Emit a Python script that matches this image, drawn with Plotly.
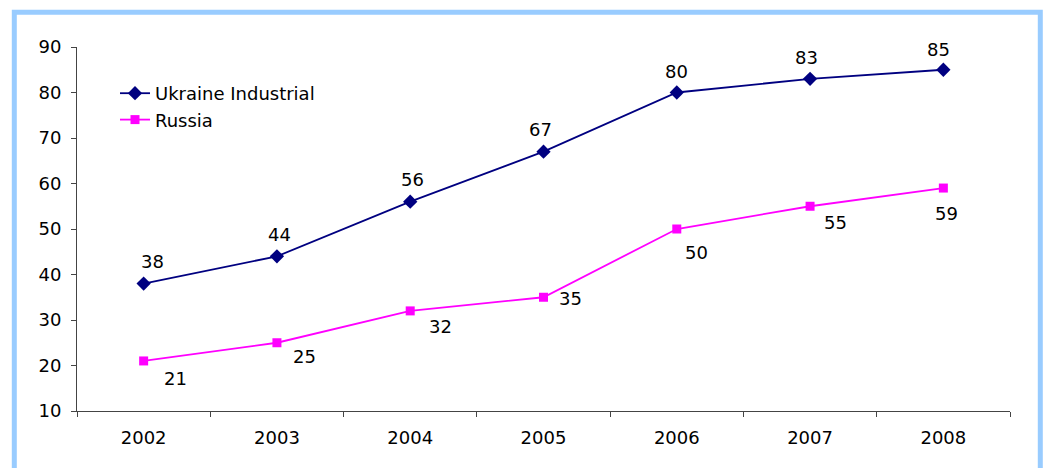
import plotly.graph_objects as go

# Chart data
years = ["2002", "2003", "2004", "2005", "2006", "2007", "2008"]
ukraine_industrial = [38, 44, 56, 67, 80, 83, 85]
russia = [21, 25, 32, 35, 50, 55, 59]

# Label placement (pixel shifts from each point)
ukraine_label_shift = [(9, 22), (3, 22), (2, 22), (-3, 22), (0, 21), (-4, 21), (-5, 20)]
russia_label_shift = [(32, -18), (28, -14), (30, -16), (27, -1), (20, -23), (25, -16), (3, -25)]

W, H = 1046, 468
ML, MR, MT, MB = 77, 36, 47, 57
FONT = "DejaVu Sans"
NAVY = "#000080"
MAGENTA = "#FF00FF"
FRAME = "#99CCFF"

fig = go.Figure()
fig.add_trace(go.Scatter(
    x=years, y=ukraine_industrial, name="Ukraine Industrial", mode="lines+markers",
    line=dict(color=NAVY, width=1.8),
    marker=dict(symbol="diamond", size=11, color=NAVY),
))
fig.add_trace(go.Scatter(
    x=years, y=russia, name="Russia", mode="lines+markers",
    line=dict(color=MAGENTA, width=1.8),
    marker=dict(symbol="square", size=9, color=MAGENTA),
))

# Value labels (category axis: position by category index)
for i, (v, (dx, dy)) in enumerate(zip(ukraine_industrial, ukraine_label_shift)):
    fig.add_annotation(x=i, y=v, xref="x", yref="y", text=str(v), showarrow=False,
                       xshift=dx, yshift=dy, font=dict(family=FONT, size=18, color="#000"))
for i, (v, (dx, dy)) in enumerate(zip(russia, russia_label_shift)):
    fig.add_annotation(x=i, y=v, xref="x", yref="y", text=str(v), showarrow=False,
                       xshift=dx, yshift=dy, font=dict(family=FONT, size=18, color="#000"))

# Light blue frame around the chart, given in pixels and mapped to paper units
pw, ph = W - ML - MR, H - MT - MB
def px_x(p):
    return (p - ML) / pw
def px_y(p):
    return (H - MB - p) / ph

fig.add_shape(type="rect", xref="paper", yref="paper",
              x0=px_x(14.3), x1=px_x(1040.3), y0=px_y(490), y1=px_y(12.3),
              line=dict(color=FRAME, width=5), fillcolor="rgba(0,0,0,0)", layer="below")

fig.update_layout(
    width=W, height=H,
    margin=dict(l=ML, r=MR, t=MT, b=MB),
    paper_bgcolor="white", plot_bgcolor="white",
    font=dict(family=FONT, size=18, color="#000"),
    showlegend=True,
    legend=dict(x=px_x(115), y=px_y(75), xanchor="left", yanchor="top",
                bgcolor="rgba(0,0,0,0)", font=dict(family=FONT, size=18, color="#000"),
                itemwidth=30),
    xaxis=dict(type="category", range=[-0.5, 6.5], showgrid=False,
               showline=True, linecolor="#444", linewidth=1,
               ticks="outside", tickson="boundaries", ticklen=5, tickcolor="#444",
               ticklabelstandoff=10,
               tickfont=dict(family=FONT, size=18, color="#000")),
    yaxis=dict(range=[10, 90], dtick=10, showgrid=False, zeroline=False,
               showline=True, linecolor="#444", linewidth=1,
               ticks="outside", ticklen=5, tickcolor="#444",
               ticklabelstandoff=6,
               tickfont=dict(family=FONT, size=18, color="#000")),
)

fig.write_html("out.html")
